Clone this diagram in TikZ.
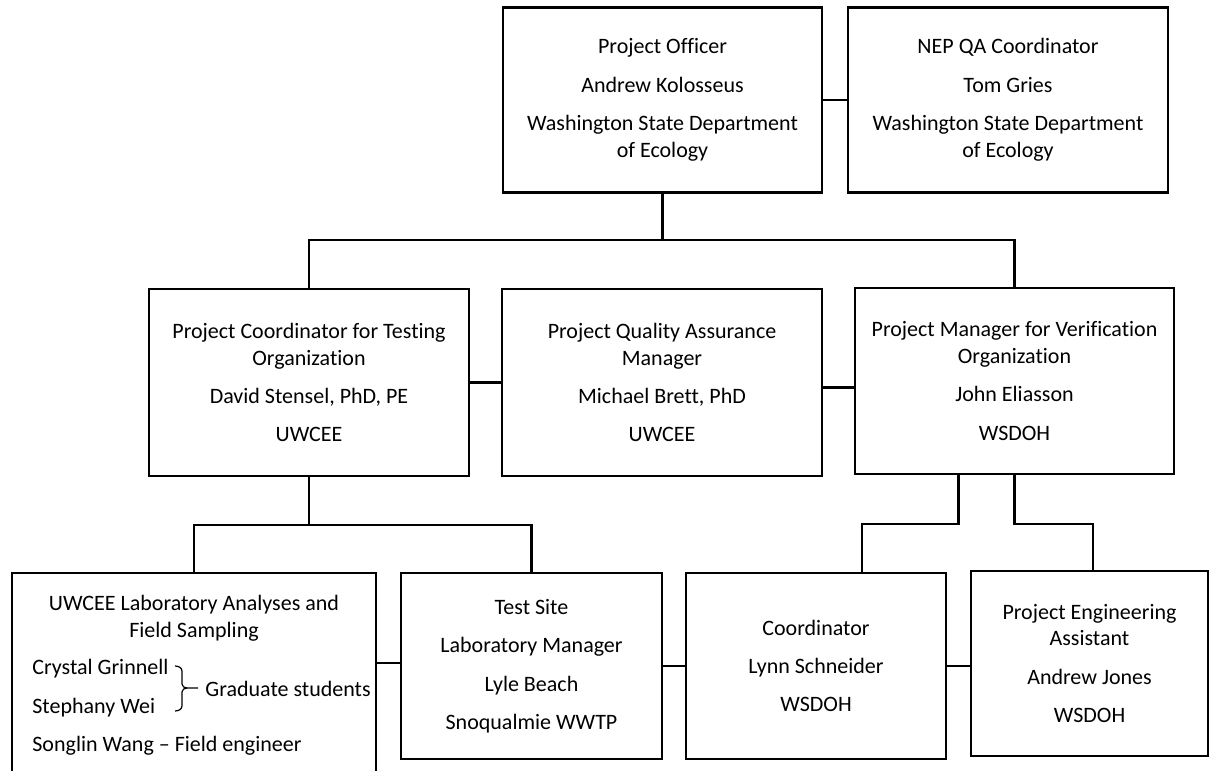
\documentclass[tikz,border=0pt]{standalone}
\usepackage{fontspec}
\setmainfont{Carlito}[Ligatures={TeX,NoCommon}]

\begin{document}
\begin{tikzpicture}[x=0.5pt,y=-0.5pt,
  box/.style={draw,line width=1.1pt,align=center,minimum height=92.5pt},
  link/.style={line width=1.1pt}]
\tikzstyle{every node}+=[inner sep=0pt,font=\fontsize{11}{13.4}\selectfont]
\useasboundingbox (0,0) rectangle (1211,771);
\clip (0,0) rectangle (1211,771);
\node[box,minimum width=159.5pt] (po) at (662.5,100) {Project Officer\\[5.8pt]Andrew Kolosseus\\[5.8pt]Washington State Department\\of Ecology};
\node[box,minimum width=160pt] (nep) at (1008,100) {NEP QA Coordinator\\[5.8pt]Tom Gries\\[5.8pt]Washington State Department\\of Ecology};
\node[box,minimum width=160pt,minimum height=93.5pt] (pc) at (309,382.5) {Project Coordinator for Testing\\Organization\\[5.8pt]David Stensel, PhD, PE\\[5.8pt]UWCEE};
\node[box,minimum width=160pt,minimum height=93.5pt] (pqa) at (662,382.5) {Project Quality Assurance\\Manager\\[5.8pt]Michael Brett, PhD\\[5.8pt]UWCEE};
\node[box,minimum width=159.5pt,minimum height=93pt] (pm) at (1014.5,381) {Project Manager for Verification\\Organization\\[5.8pt]John Eliasson\\[5.8pt]WSDOH};
\node[box,minimum width=182pt,minimum height=113.5pt] (uwcee) at (194,686.5) {};
\node[box,minimum width=130.5pt,minimum height=93pt] (ts) at (531.5,666) {Test Site\\[5.8pt]Laboratory Manager\\[5.8pt]Lyle Beach\\[5.8pt]Snoqualmie WWTP};
\node[box,minimum width=130pt,minimum height=93pt] (coord) at (816,666) {Coordinator\\[5.8pt]Lynn Schneider\\[5.8pt]WSDOH};
\node[box,minimum width=118.5pt] (pea) at (1089.5,663.5) {Project Engineering\\Assistant\\[5.8pt]Andrew Jones\\[5.8pt]WSDOH};
\node[align=center] (lab) at (194,618) {UWCEE Laboratory Analyses and\\Field Sampling};
\node[anchor=west] (cg) at (32,669) {Crystal Grinnell};
\node[anchor=west] (sw) at (32,708) {Stephany Wei};
\node[anchor=west] (sl) at (32,746) {Songlin Wang – Field engineer};
\node[anchor=west] (gs) at (205,689) {Graduate students};
\draw[line width=0.6pt] (175,666) to[out=0,in=90] (182,671) -- (182,684) to[out=-90,in=180] (187,688) -- (198,688);
\draw[line width=0.6pt] (187,688) to[out=180,in=90] (182,692) -- (182,706) to[out=-90,in=0] (175,711);
\draw[link] (po.east) -- (nep.west);
\draw[link] (po.south) -- (662.5,240) coordinate (j1);
\draw[link] (pc.north) |- (j1) -| (pm.north);
\draw[link] (pc.east) -- (pqa.west);
\draw[link] ([yshift=-2.5pt]pqa.east) -- ([yshift=-2.5pt]pqa.east -| pm.west);
\draw[link] (pc.south) -- (309,525) coordinate (j2);
\draw[link] (uwcee.north) |- (j2) -| (ts.north);
\draw[link] ([yshift=11.75pt]uwcee.east) -- ([yshift=1.5pt]ts.west);
\draw[link] (ts.east) -- (coord.west);
\draw[link] (coord.east) -- (coord.east -| pea.west);
\draw[link] ([xshift=-28pt]pm.south) -- ++(0,49) -| ([xshift=23pt]coord.north);
\draw[link] (pm.south) -- ++(0,49) -| ([xshift=1.75pt]pea.north);
\end{tikzpicture}
\end{document}
